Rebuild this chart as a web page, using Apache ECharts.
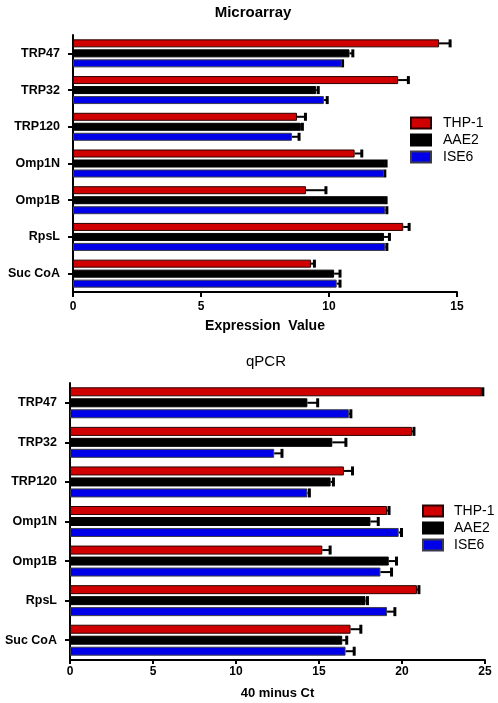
<!DOCTYPE html>
<html><head><meta charset="utf-8">
<script src="https://cdn.jsdelivr.net/npm/echarts@6/dist/echarts.min.js"></script>
<style>html,body{margin:0;padding:0;background:#fff}#c{width:498px;height:703px}</style>
</head><body><div id="c"></div>
<script>
const categories = ['TRP47','TRP32','TRP120','Omp1N','Omp1B','RpsL','Suc CoA'];
const seriesNames = ['THP-1','AAE2','ISE6'];
const maTicks = [0,5,10,15];
const qTicks = [0,5,10,15,20,25];

const maTHP1 = [14.3, 12.7, 8.75, 11.0, 9.1, 12.9, 9.3];
const maTHP1Err = [0.45, 0.42, 0.35, 0.3, 0.8, 0.25, 0.15];
const maAAE2 = [10.8, 9.5, 8.9, 12.2, 12.2, 12.15, 10.2];
const maAAE2Err = [0.15, 0.1, 0.08, 0.05, 0.05, 0.23, 0.25];
const maISE6 = [10.5, 9.8, 8.55, 12.15, 12.2, 12.2, 10.3];
const maISE6Err = [0.05, 0.15, 0.3, 0.05, 0.08, 0.08, 0.15];

const qTHP1 = [24.8, 20.6, 16.5, 19.1, 15.2, 20.9, 16.9];
const qTHP1Err = [0.1, 0.15, 0.55, 0.15, 0.5, 0.15, 0.65];
const qAAE2 = [14.3, 15.8, 15.7, 18.1, 19.2, 17.8, 16.4];
const qAAE2Err = [0.65, 0.85, 0.2, 0.5, 0.5, 0.15, 0.3];
const qISE6 = [16.8, 12.3, 14.3, 19.8, 18.7, 19.1, 16.6];
const qISE6Err = [0.15, 0.5, 0.15, 0.2, 0.7, 0.5, 0.55];

const colors = ['#d00000', '#000000', '#0000e8'];
const borders = ['#2a0000', '#000000', '#3a3a4a'];
const FONT = 'Liberation Sans, Arial, sans-serif';

const chart = echarts.init(document.getElementById('c'));

function errSeries(grid, k, vals, errs, bw, gap) {
  const total = 3 * bw + 2 * gap;
  const off = -total / 2 + k * (bw + gap) + bw / 2;
  return {
    type: 'custom', xAxisIndex: grid, yAxisIndex: grid, z: 1,
    data: vals.map((v, i) => [v, errs[i], i]),
    encode: { x: 0, y: 2 },
    renderItem: function (params, api) {
      const v = api.value(0), e = api.value(1), c = api.value(2);
      const p0 = api.coord([v, c]);
      const p1 = api.coord([v + e, c]);
      const y = p0[1] + off;
      return {
        type: 'group',
        children: [
          { type: 'line', shape: { x1: p0[0], y1: y, x2: p1[0], y2: y }, style: { stroke: '#000', lineWidth: 2 } },
          { type: 'rect', shape: { x: p1[0] - 2, y: y - bw / 2, width: 3, height: bw }, style: { fill: '#000' } }
        ]
      };
    }
  };
}

function barSeries(grid, k, vals, bw, gap) {
  return {
    type: 'bar', name: seriesNames[k], xAxisIndex: grid, yAxisIndex: grid,
    data: vals, barWidth: bw, barGap: gap, z: 2,
    itemStyle: { color: colors[k], borderColor: borders[k], borderWidth: 1 }
  };
}

const axisLineStyle = { show: true, lineStyle: { color: '#000', width: 2 } };

function legendAt(left, top, pad) {
  return {
    orient: 'vertical', left: left, top: top, padding: 0, itemWidth: 20, itemHeight: 11, itemGap: 3,
    icon: 'rect', selectedMode: false,
    data: seriesNames.map(n => ({ name: n })),
    textStyle: { fontFamily: FONT, fontSize: 14, color: '#000', padding: [0, 0, 0, pad] }
  };
}

const option = {
  animation: false,
  backgroundColor: '#fff',
  title: [
    { text: 'Microarray', left: 248, top: 0, textAlign: 'center',
      textStyle: { fontFamily: FONT, fontSize: 15, fontWeight: 'bold', color: '#000' } },
    { text: 'qPCR', left: 261, top: 349, textAlign: 'center',
      textStyle: { fontFamily: FONT, fontSize: 15, fontWeight: 'normal', color: '#000' } }
  ],
  legend: [ legendAt(410, 116, 7), legendAt(422, 504, 6) ],
  grid: [
    { left: 73, width: 384, top: 35, height: 257 },
    { left: 70, width: 415, top: 383, height: 277 }
  ],
  xAxis: [
    { type: 'value', gridIndex: 0, min: maTicks[0], max: maTicks[maTicks.length - 1], interval: 5,
      splitLine: { show: false }, axisLine: axisLineStyle,
      axisTick: { show: true, length: 5, lineStyle: { color: '#000', width: 2 } },
      axisLabel: { fontFamily: FONT, fontSize: 12, fontWeight: 'bold', color: '#000', margin: 9 },
      name: 'Expression  Value', nameLocation: 'middle', nameGap: 27,
      nameTextStyle: { fontFamily: FONT, fontSize: 14, fontWeight: 'bold', color: '#000' } },
    { type: 'value', gridIndex: 1, min: qTicks[0], max: qTicks[qTicks.length - 1], interval: 5,
      splitLine: { show: false }, axisLine: axisLineStyle,
      axisTick: { show: true, length: 4, lineStyle: { color: '#000', width: 2 } },
      axisLabel: { fontFamily: FONT, fontSize: 12, fontWeight: 'bold', color: '#000', margin: 6 },
      name: '40 minus Ct', nameLocation: 'middle', nameGap: 27,
      nameTextStyle: { fontFamily: FONT, fontSize: 13, fontWeight: 'bold', color: '#000' } }
  ],
  yAxis: [
    { type: 'category', gridIndex: 0, data: categories, inverse: true,
      axisLine: axisLineStyle,
      axisTick: { show: true, alignWithLabel: true, length: 5, lineStyle: { color: '#000', width: 2 } },
      axisLabel: { fontFamily: FONT, fontSize: 12.5, fontWeight: 'bold', color: '#000', margin: 13 } },
    { type: 'category', gridIndex: 1, data: categories, inverse: true,
      axisLine: axisLineStyle,
      axisTick: { show: true, alignWithLabel: true, length: 5, lineStyle: { color: '#000', width: 2 } },
      axisLabel: { fontFamily: FONT, fontSize: 12.5, fontWeight: 'bold', color: '#000', margin: 13 } }
  ],
  series: [
    barSeries(0, 0, maTHP1, 8, '25%'),
    barSeries(0, 1, maAAE2, 8, '25%'),
    barSeries(0, 2, maISE6, 8, '25%'),
    errSeries(0, 0, maTHP1, maTHP1Err, 8, 2),
    errSeries(0, 1, maAAE2, maAAE2Err, 8, 2),
    errSeries(0, 2, maISE6, maISE6Err, 8, 2),
    barSeries(1, 0, qTHP1, 9, '22%'),
    barSeries(1, 1, qAAE2, 9, '22%'),
    barSeries(1, 2, qISE6, 9, '22%'),
    errSeries(1, 0, qTHP1, qTHP1Err, 9, 2),
    errSeries(1, 1, qAAE2, qAAE2Err, 9, 2),
    errSeries(1, 2, qISE6, qISE6Err, 9, 2)
  ]
};
chart.setOption(option);
</script></body></html>
